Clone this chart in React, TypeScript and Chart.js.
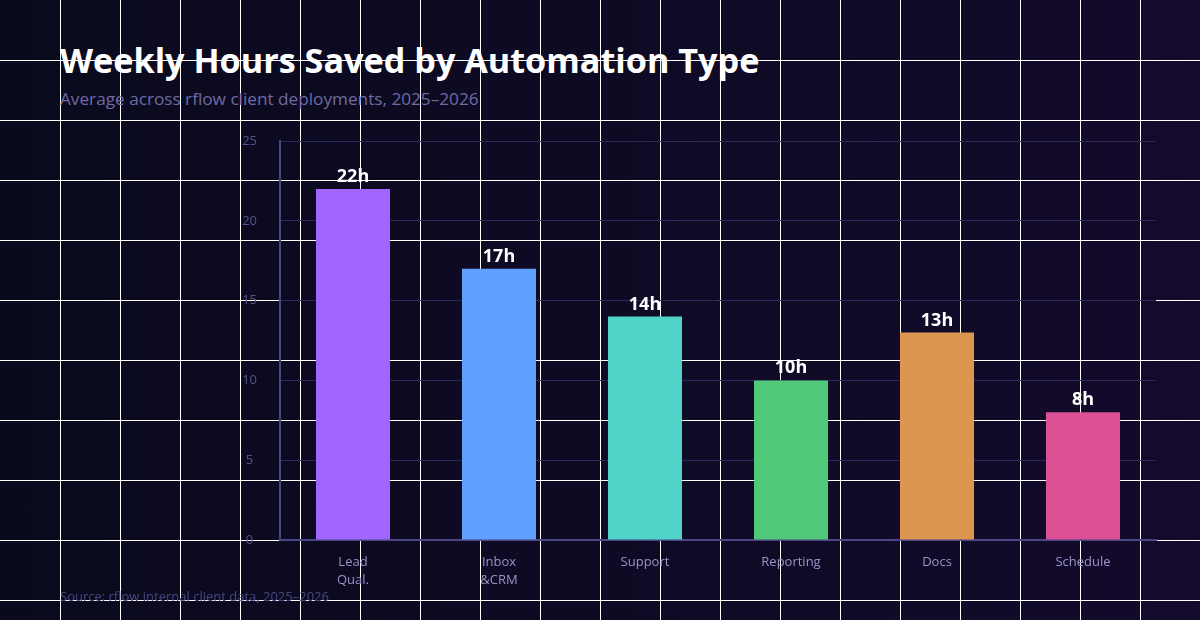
import React, { useEffect, useRef } from "react";
import { Chart, registerables } from "chart.js";

Chart.register(...registerables);

const categories: (string | string[])[] = [["Lead", "Qual."], ["Inbox", "&CRM"], "Support", "Reporting", "Docs", "Schedule"];
const hoursSaved = [22, 17, 14, 10, 13, 8];
const barColors = ["#a066ff", "#60a0ff", "#50d4c8", "#50c878", "#dc9650", "#dc5096"];
const yTicks = [0, 5, 10, 15, 20, 25];

const FONT = "'Segoe UI', 'Open Sans', sans-serif";

const valueLabels = {
  id: "valueLabels",
  afterDatasetsDraw(chart: any) {
    const ctx = chart.ctx;
    const meta = chart.getDatasetMeta(0);
    ctx.save();
    ctx.fillStyle = "#ffffff";
    ctx.font = `bold 18px ${FONT}`;
    ctx.textAlign = "center";
    ctx.textBaseline = "alphabetic";
    meta.data.forEach((bar: any, i: number) => {
      ctx.fillText(`${hoursSaved[i]}h`, bar.x, bar.y - 7);
    });
    ctx.restore();
  },
};

export default function App() {
  const ref = useRef<HTMLCanvasElement>(null);
  useEffect(() => {
    document.body.style.margin = "0";
    const chart = new Chart(ref.current!, {
      type: "bar",
      data: {
        labels: categories,
        datasets: [
          {
            data: hoursSaved,
            backgroundColor: barColors,
            borderWidth: 0,
            barPercentage: 0.507,
            categoryPercentage: 1,
          },
        ],
      },
      options: {
        responsive: false,
        animation: false,
        layout: { padding: { left: 60, right: 44, top: 141, bottom: 30 } },
        plugins: { legend: { display: false }, tooltip: { enabled: false } },
        scales: {
          x: {
            grid: { display: false, drawTicks: false },
            border: { color: "#4a4585", width: 2 },
            ticks: { color: "#9a94c8", font: { family: FONT, size: 13, lineHeight: 1.4 }, padding: 13, maxRotation: 0 },
            afterFit: (s: any) => { s.height = 50; },
          },
          y: {
            min: 0,
            max: 25,
            afterBuildTicks: (s: any) => { s.ticks = yTicks.map((v) => ({ value: v })); },
            grid: { color: "#2b2858", drawTicks: false },
            border: { color: "#4a4585", width: 2 },
            ticks: { color: "#56528a", font: { family: FONT, size: 13 }, padding: 23, crossAlign: "center" },
            afterFit: (s: any) => { s.width = 220; },
          },
        },
      },
      plugins: [valueLabels],
    });
    return () => chart.destroy();
  }, []);

  const vLines: React.CSSProperties = {
    position: "absolute",
    left: 60,
    top: 0,
    width: 1140,
    height: 620,
    backgroundImage: "linear-gradient(to right, #ffffff 0, #ffffff 1px, transparent 1px)",
    backgroundSize: "60px 60px",
  };
  const hLines: React.CSSProperties = {
    position: "absolute",
    left: 0,
    top: 60,
    width: 1200,
    height: 560,
    backgroundImage: "linear-gradient(to bottom, #ffffff 0, #ffffff 1px, transparent 1px)",
    backgroundSize: "60px 60px",
  };

  return (
    <div
      style={{
        position: "fixed",
        left: 0,
        top: 0,
        width: 1200,
        height: 620,
        overflow: "hidden",
        background: "linear-gradient(90deg, #0a0a1e 0%, #0e0a24 50%, #140a2c 100%)",
        fontFamily: FONT,
      }}
    >
      <div style={vLines} />
      <div style={hLines} />
      <div style={{ position: "absolute", left: 60, top: 37, color: "#ffffff", fontSize: 34.2, fontWeight: 700, lineHeight: "46px", whiteSpace: "nowrap" }}>
        Weekly Hours Saved by Automation Type
      </div>
      <div style={{ position: "absolute", left: 60, top: 87, color: "#6f6aa3", fontSize: 17.2, lineHeight: "24px", whiteSpace: "nowrap" }}>
        Average across rflow client deployments, 2025–2026
      </div>
      <canvas ref={ref} width={1200} height={620} style={{ position: "absolute", left: 0, top: 0, width: 1200, height: 620 }} />
      <div style={{ position: "absolute", left: 60, top: 587, color: "#4a4680", fontSize: 13, lineHeight: "18px", whiteSpace: "nowrap" }}>
        Source: rflow internal client data, 2025–2026
      </div>
    </div>
  );
}
